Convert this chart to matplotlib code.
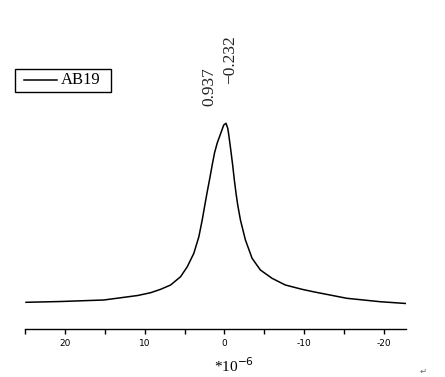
import matplotlib
matplotlib.use("Agg")
import matplotlib.pyplot as plt
from matplotlib.patches import Rectangle
from matplotlib.lines import Line2D

# data (x in units of 1e-6, y arbitrary intensity)
x_vals = [24.875, 20.5, 15.125, 10.875, 9.25, 8.0, 6.75, 5.5, 4.66, 3.84, 3.21, 2.79,
          2.46, 2.16, 1.84, 1.54, 1.25, 0.91, 0.5, 0.09, -0.19, -0.41, -0.54, -0.79,
          -1.04, -1.25, -1.46, -1.66, -2.0, -2.625, -3.46, -4.5, -5.96, -7.625,
          -9.71, -11.29, -15.34, -19.5, -22.75]
y_vals = [26.7, 27.5, 29, 33.5, 36.3, 39.7, 44, 52.3, 62.3, 75.7, 92.3, 109,
          124, 137.3, 150.7, 164, 176, 186, 195, 204, 205.7, 200.7, 194, 179,
          163, 148, 135, 124, 109, 89, 70.7, 59, 50.7, 44,
          39.7, 37, 30.7, 27.3, 25.5]
major_ticks = [20, 10, 0, -10, -20]
minor_ticks = [25, 15, 5, -5, -15]
peak_labels = ["0.937", "\u22120.232"]
peak_pos = [1.9, -0.65]
series_name = "AB19"

W, H = 445, 377
fig = plt.figure(figsize=(W / 100, H / 100), dpi=100)
ax = fig.add_axes([25 / W, 48 / H, 381 / W, 260 / H])
ax.plot(x_vals, y_vals, color="black", lw=1.1, label=series_name)
ax.set_xlim(24.875, -22.75)
ax.set_ylim(0, 260)
for s in ["top", "left", "right"]:
    ax.spines[s].set_visible(False)
ax.spines["bottom"].set_linewidth(1.0)
ax.set_yticks([])
ax.set_xticks(major_ticks)
ax.set_xticks(minor_ticks, minor=True)
ax.set_xticklabels([str(t) for t in major_ticks], fontsize=6.5, family="DejaVu Sans")
ax.tick_params(axis="x", which="both", direction="out", length=3.5, width=1, pad=3.5)

serif = ["Liberation Serif", "DejaVu Serif"]
ax.text(peak_pos[0], 329 - 106, peak_labels[0], rotation=90, ha="center", va="bottom",
        fontsize=12.5, family=serif, color="#222222")
ax.text(peak_pos[1], 329 - 84, peak_labels[1], rotation=90, ha="center", va="bottom",
        fontsize=12.5, family=serif, color="#222222", clip_on=False)

fig.text(234 / W, 1 - 366 / H, r"*10$^{-6}$", ha="center", va="center",
         fontsize=11, family=serif)
fig.text(423 / W, 1 - 371 / H, "\u21b5", ha="center", va="center", fontsize=6, color="#666666")

# legend box drawn in figure pixels
fig.add_artist(Rectangle((14.5 / W, 1 - 91.5 / H), 96.5 / W, 22 / H, transform=fig.transFigure,
                         facecolor="white", edgecolor="black", lw=1.0))
fig.add_artist(Line2D([24 / W, 57 / W], [1 - 80 / H, 1 - 80 / H], transform=fig.transFigure,
                      color="black", lw=1.1))
fig.text(61 / W, 1 - 80.5 / H, series_name, ha="left", va="center", fontsize=12, family=serif)

fig.savefig("out.png", dpi=100)
